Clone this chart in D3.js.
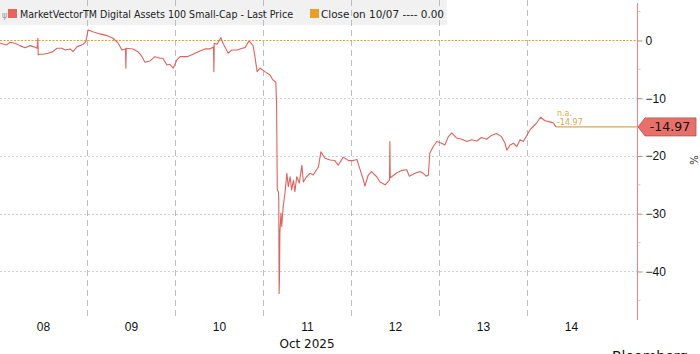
<!DOCTYPE html>
<html>
<head>
<meta charset="utf-8">
<script src="https://cdn.jsdelivr.net/npm/d3@7"></script>
<style>
  html, body { margin: 0; padding: 0; background: #fff; }
  svg { display: block; font-family: "DejaVu Sans", Verdana, sans-serif; }
</style>
</head>
<body>
<div id="chart"></div>
<script>
// series: hours since 08 Oct 2025 00:00, % change vs close on 10/07
const hours = [
  0.3, 2.1, 3.0, 4.4, 5.7, 7.1, 8.5, 9.3, 10.4, 10.6, 10.7, 10.9, 12.0, 13.4, 14.7, 15.8, 17.2, 18.0, 19.4, 20.2,
  21.3, 22.1, 22.9, 23.7, 24.3, 25.6, 27.5, 29.5, 31.1, 32.5, 33.5, 34.5, 34.6, 34.7, 36.5, 37.9, 39.0, 39.8, 41.2, 42.5,
  43.9, 44.7, 45.8, 46.6, 47.5, 48.5, 49.4, 51.3, 52.9, 54.8, 56.2, 57.5, 58.5, 58.6, 58.7, 59.5, 60.5, 61.1, 62.5, 63.5,
  64.9, 66.3, 67.1, 68.2, 69.3, 69.8, 70.4, 71.2, 72.5, 73.9, 74.7, 75.5, 75.7, 75.9, 76.2, 76.3, 76.4, 76.5, 76.6, 76.9,
  77.1, 77.5, 78.0, 78.5, 78.9, 79.4, 79.8, 80.3, 80.7, 81.2, 81.9, 82.6, 83.0, 83.9, 84.8, 85.7, 86.6, 87.1, 87.8, 88.9,
  90.3, 91.6, 92.5, 93.9, 95.3, 96.6, 97.6, 98.5, 99.4, 99.8, 100.7, 101.6, 103.0, 103.9, 105.3, 106.5, 106.6, 106.7, 107.1, 108.5,
  109.8, 111.2, 111.9, 113.5, 114.8, 115.7, 116.5, 117.1, 117.5, 118.4, 119.4, 120.7, 121.6, 122.5, 123.5, 124.8, 126.2, 127.6, 128.9, 130.3,
  131.6, 133.0, 134.4, 135.7, 137.1, 138.0, 138.5, 139.4, 140.3, 141.2, 142.1, 143.0, 143.9, 144.8, 145.7, 146.6, 147.7, 148.9, 150.3, 151.2,
  151.9
];
const lastPrice = [
  -0.48, -0.78, -0.31, -0.48, -0.90, -1.25, -0.90, -1.07, -1.35, 0.38, -2.50, -2.39, -2.39, -2.22, -1.94, -1.35, -1.35, -1.65, -1.47, -1.94,
  -1.07, -0.90, -0.66, -0.21, 1.82, 1.52, 1.13, 0.83, 0.38, -0.48, -1.65, -1.47, -4.81, -1.35, -1.47, -1.94, -2.81, -3.77, -3.55, -2.81,
  -3.08, -3.08, -4.24, -4.12, -4.81, -3.38, -2.81, -2.81, -2.39, -1.82, -1.47, -1.47, -1.13, -5.40, -0.48, -0.66, 0.48, -0.48, -2.22, -1.65,
  -1.65, -1.35, -1.25, -0.09, -0.90, -2.81, -5.40, -4.81, -5.40, -5.97, -6.84, -7.24, -10.87, -25.9, -26.2, -27.6, -43.8, -40.9, -33.3, -29.9,
  -32.2, -28.8, -26.4, -23.0, -25.3, -23.6, -25.9, -24.2, -26.2, -23.6, -24.7, -21.6, -24.5, -23.6, -23.0, -23.3, -22.4, -21.9, -19.3, -20.4,
  -20.7, -20.8, -21.6, -20.2, -20.8, -20.8, -20.6, -22.4, -24.2, -25.2, -23.3, -22.7, -23.6, -24.5, -25.0, -24.2, -17.5, -23.8, -23.6, -22.9,
  -22.5, -22.4, -23.5, -23.0, -22.7, -23.0, -23.5, -23.3, -19.5, -18.4, -17.5, -17.8, -18.1, -16.7, -16.0, -16.9, -17.1, -17.5, -17.2, -17.4,
  -16.8, -17.1, -16.4, -16.1, -16.7, -17.8, -19.0, -18.1, -17.8, -18.4, -17.2, -17.5, -16.5, -15.5, -14.9, -14.3, -13.3, -13.9, -14.1, -14.3,
  -14.97
];
const closeValue = 0.00;
const lastValue = -14.97;
const dayLabels = ["08", "09", "10", "11", "12", "13", "14"];
const yTicks = [0, -10, -20, -30, -40];
const yMinorTicks = [5, -5, -15, -25, -35, -45];
const seriesName = "MarketVectorTM Digital Assets 100 Small-Cap - Last Price";
const closeName = "Close on 10/07 ---- 0.00";

const W = 700, H = 354;
const t0 = Date.UTC(2025, 9, 8);
const toDate = h => new Date(t0 + h * 3600e3);
const data = hours.map((h, i) => ({ date: toDate(h), value: lastPrice[i] }));

const svg = d3.select("#chart").append("svg")
  .attr("width", W).attr("height", H);

const x = d3.scaleUtc()
  .domain([toDate(0), toDate(174)])
  .range([-1, 637]);
const y = d3.scaleLinear()
  .domain([7, -48.4])
  .range([0, 320]);

/* legend background */
svg.append("rect")
  .attr("x", 0).attr("y", 0).attr("width", 447).attr("height", 25)
  .attr("fill", "#f1f1f1");

/* day separators */
const dayBounds = d3.range(1, 7).map(d => toDate(d * 24));
svg.append("g").selectAll("line")
  .data(dayBounds)
  .join("line")
  .attr("x1", d => Math.round(x(d)) + 0.5).attr("x2", d => Math.round(x(d)) + 0.5)
  .attr("y1", 0).attr("y2", 320)
  .attr("stroke", "#bdbdbd").attr("stroke-width", 1)
  .attr("stroke-dasharray", "6,4");

/* horizontal grid */
svg.append("g").selectAll("line")
  .data(yTicks.filter(v => v !== 0))
  .join("line")
  .attr("x1", 0).attr("x2", 637)
  .attr("y1", d => Math.round(y(d)) + 0.5).attr("y2", d => Math.round(y(d)) + 0.5)
  .attr("stroke", "#cfcfcf").attr("stroke-width", 1)
  .attr("stroke-dasharray", "2,2");

/* close on 10/07 line */
svg.append("line")
  .attr("x1", 0).attr("x2", 637)
  .attr("y1", Math.round(y(closeValue)) + 0.5).attr("y2", Math.round(y(closeValue)) + 0.5)
  .attr("stroke", "#e8a02c").attr("stroke-width", 1.2)
  .attr("stroke-dasharray", "2,1.5");

/* last value extension */
const last = data[data.length - 1];
svg.append("line")
  .attr("x1", x(last.date)).attr("x2", 637)
  .attr("y1", y(lastValue)).attr("y2", y(lastValue))
  .attr("stroke", "#d9a750").attr("stroke-width", 1.2);

/* series */
const line = d3.line()
  .x(d => x(d.date))
  .y(d => y(d.value));
svg.append("path")
  .datum(data)
  .attr("d", line)
  .attr("fill", "none")
  .attr("stroke", "#e0625e")
  .attr("stroke-width", 1.1)
  .attr("stroke-linejoin", "round");

/* n.a. annotation */
const ann = svg.append("g")
  .attr("fill", "#e3a443")
  .style("font-size", "8px");
ann.append("text").attr("x", x(last.date) + 1).attr("y", y(lastValue) - 11).text("n.a.");
ann.append("text").attr("x", x(last.date) + 1).attr("y", y(lastValue) - 2).text("-" + Math.abs(lastValue).toFixed(2));

/* right axis */
const yAxis = d3.axisRight(y).tickValues(yTicks).tickSize(5).tickPadding(3)
  .tickFormat(d => d === 0 ? "0" : d3.format("d")(d));
const yG = svg.append("g")
  .attr("transform", "translate(637.5,0)")
  .call(yAxis);
yG.select(".domain").remove();
yG.selectAll(".tick line").attr("stroke", "#e57a78");
yG.selectAll(".tick text").attr("fill", "#111").style("font-size", "12px");
yG.append("line")
  .attr("x1", 0).attr("x2", 0).attr("y1", 3).attr("y2", 320)
  .attr("stroke", "#ea8583").attr("stroke-width", 1);
yG.selectAll(".minor")
  .data(yMinorTicks)
  .join("line")
  .attr("class", "minor")
  .attr("x1", 0).attr("x2", 3)
  .attr("y1", d => y(d)).attr("y2", d => y(d))
  .attr("stroke", "#f2b9b8");

svg.append("text")
  .attr("transform", "translate(690,160) rotate(90)")
  .attr("text-anchor", "middle")
  .style("font-size", "10px")
  .attr("fill", "#222")
  .text("%");

/* last value tag */
const ty = y(lastValue);
svg.append("path")
  .attr("d", `M638,${ty} L645,${ty - 9} L696,${ty - 9} L696,${ty + 9} L645,${ty + 9} Z`)
  .attr("fill", "#e8706b").attr("stroke", "#b9504c").attr("stroke-width", 0.8);
svg.append("text")
  .attr("x", 670).attr("y", ty + 4.5)
  .attr("text-anchor", "middle")
  .style("font-size", "12.5px")
  .attr("fill", "#111")
  .text(lastValue.toFixed(2));

/* bottom axis: day labels at noon */
const noons = dayLabels.map((d, i) => toDate(i * 24 + 12));
const xAxis = d3.axisBottom(x).tickValues(noons).tickSize(0).tickPadding(0)
  .tickFormat((d, i) => dayLabels[i]);
const xG = svg.append("g")
  .attr("transform", "translate(0,322)")
  .call(xAxis);
xG.select(".domain").remove();
xG.selectAll(".tick text").attr("fill", "#111").style("font-size", "12px");
svg.append("text")
  .attr("x", x(toDate(3 * 24 + 12))).attr("y", 348)
  .attr("text-anchor", "middle")
  .style("font-size", "12px")
  .attr("fill", "#111")
  .text("Oct 2025");

/* legend */
const lg = svg.append("g").style("font-size", "10.5px").attr("fill", "#222");
lg.append("text").attr("x", 2).attr("y", 18).style("font-size", "8px").attr("fill", "#999").text("ψ");
lg.append("rect").attr("x", 8).attr("y", 9).attr("width", 9).attr("height", 9).attr("fill", "#e8625e");
lg.append("text").attr("x", 20).attr("y", 17.5)
  .attr("textLength", 273).attr("lengthAdjust", "spacingAndGlyphs")
  .text(seriesName);
lg.append("rect").attr("x", 310).attr("y", 9).attr("width", 9).attr("height", 9).attr("fill", "#e8a02c");
lg.append("text").attr("x", 321).attr("y", 17.5)
  .attr("textLength", 123).attr("lengthAdjust", "spacingAndGlyphs")
  .text(closeName);

/* source */
svg.append("text")
  .attr("x", 612).attr("y", 361)
  .style("font-size", "14px")
  .attr("fill", "#111")
  .text("Bloomberg");
</script>
</body>
</html>
